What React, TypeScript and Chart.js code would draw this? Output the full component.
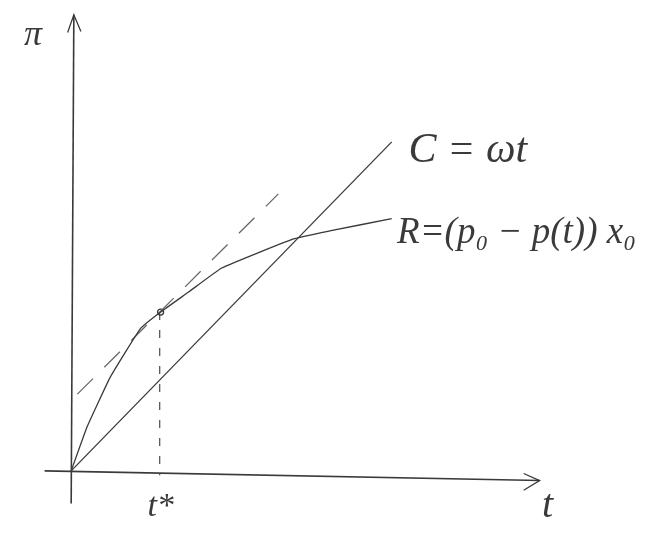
import React, { useEffect, useRef } from "react";
import { Chart, registerables } from "chart.js";

Chart.register(...registerables);

// Abstract coordinates: t (horizontal), π (vertical); t* = 1
const C_LINE = [
  { x: 0, y: 0 },
  { x: 3.62, y: 3.73 },
];
const R_CURVE = [
  { x: 0, y: 0 },
  { x: 0.18, y: 0.5 },
  { x: 0.44, y: 1.06 },
  { x: 0.78, y: 1.61 },
  { x: 1.01, y: 1.8 },
  { x: 1.33, y: 2.03 },
  { x: 1.7, y: 2.3 },
  { x: 2.51, y: 2.63 },
  { x: 2.92, y: 2.72 },
  { x: 3.62, y: 2.86 },
];
const TANGENT = [
  { x: 0.07, y: 0.87 },
  { x: 2.34, y: 3.14 },
];
const T_STAR_DROP = [
  { x: 1.0, y: 1.8 },
  { x: 1.0, y: -0.05 },
];
const KINK = [{ x: 1.01, y: 1.8 }];
const T_AXIS = [
  { x: -0.3, y: 0 },
  { x: 5.29, y: -0.11 },
];
const T_ARROW = [
  { x: 5.11, y: -0.03 },
  { x: 5.29, y: -0.11 },
  { x: 5.11, y: -0.22 },
];
const PI_AXIS = [
  { x: 0, y: -0.37 },
  { x: 0.03, y: 5.17 },
];
const PI_ARROW = [
  { x: -0.04, y: 4.97 },
  { x: 0.03, y: 5.17 },
  { x: 0.11, y: 4.98 },
];
const LABEL_TEXT = ["π", "C = ωt", "R=(p₀ − p(t)) x₀", "t*", "t"];
const LABEL_AT = [
  { x: -0.43, y: 4.94 },
  { x: 4.48, y: 3.63 },
  { x: 3.68, y: 2.69 },
  { x: 1.01, y: -0.41 },
  { x: 5.38, y: -0.4 },
];
const LABEL_ALIGN: CanvasTextAlign[] = ["center", "center", "left", "center", "center"];
const LABEL_SIZE = [36, 42, 37, 34, 40];

const INK = "#3a3a3a";

export default function App() {
  const ref = useRef<HTMLCanvasElement | null>(null);
  useEffect(() => {
    document.body.style.margin = "0";
    const labelPlugin = {
      id: "labels",
      afterDatasetsDraw(chart: any) {
        const { ctx, scales } = chart;
        ctx.save();
        ctx.fillStyle = INK;
        ctx.textBaseline = "middle";
        LABEL_TEXT.forEach((txt, i) => {
          ctx.font = `italic ${LABEL_SIZE[i]}px "Liberation Serif", serif`;
          ctx.textAlign = LABEL_ALIGN[i];
          ctx.fillText(txt, scales.x.getPixelForValue(LABEL_AT[i].x), scales.y.getPixelForValue(LABEL_AT[i].y));
        });
        ctx.restore();
      },
    };
    const bgPlugin = {
      id: "bg",
      beforeDraw(chart: any) {
        const { ctx, width, height } = chart;
        ctx.save();
        ctx.fillStyle = "#ffffff";
        ctx.fillRect(0, 0, width, height);
        ctx.restore();
      },
    };
    const line = (data: any[], extra: any = {}) => ({
      data,
      showLine: true,
      borderColor: INK,
      borderWidth: 1.3,
      pointRadius: 0,
      fill: false,
      ...extra,
    });
    const chart = new Chart(ref.current as HTMLCanvasElement, {
      type: "scatter",
      data: {
        datasets: [
          line(PI_AXIS, { borderWidth: 1.6 }),
          line(PI_ARROW),
          line(T_AXIS, { borderWidth: 1.6 }),
          line(T_ARROW),
          line(C_LINE),
          line(R_CURVE, { tension: 0.1 }),
          line(TANGENT, { borderDash: [22, 16], borderColor: "#6a6a6a" }),
          line(T_STAR_DROP, { borderDash: [8, 10], borderWidth: 1.1 }),
          {
            data: KINK,
            pointRadius: 3,
            pointBorderColor: INK,
            pointBackgroundColor: "#ffffff",
            pointBorderWidth: 1.3,
            showLine: false,
          },
        ],
      },
      options: {
        animation: false,
        responsive: false,
        layout: { padding: 0 },
        plugins: { legend: { display: false }, tooltip: { enabled: false } },
        scales: {
          x: { type: "linear", min: -0.744, max: 6.567, display: false },
          y: { type: "linear", min: -0.667, max: 5.278, display: false },
        },
      },
      plugins: [bgPlugin, labelPlugin],
    });
    return () => chart.destroy();
  }, []);
  return (
    <div style={{ width: 658, height: 535 }}>
      <canvas ref={ref} width={658} height={535} style={{ display: "block" }} />
    </div>
  );
}
